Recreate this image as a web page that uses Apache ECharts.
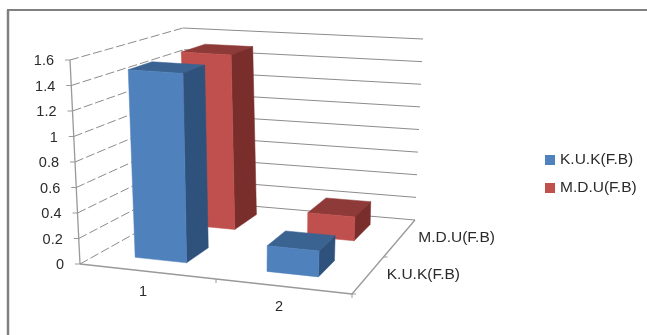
<!DOCTYPE html>
<html>
<head>
<meta charset="utf-8">
<script src="https://cdn.jsdelivr.net/npm/echarts@6/dist/echarts.min.js"></script>
<style>
html,body{margin:0;padding:0;background:#fff}
#main{width:647px;height:335px;filter:blur(0.45px)}
</style>
</head>
<body>
<div id="main"></div>
<script>
var categories = ['1', '2'];
var seriesNames = ['K.U.K(F.B)', 'M.D.U(F.B)'];
var kukValues = [1.5, 0.2];
var mduValues = [1.5, 0.2];
var yTicks = [0, 0.2, 0.4, 0.6, 0.8, 1, 1.2, 1.4, 1.6];

// where the corners of the 3d box land on the page: front/back, left/right, bottom/top
var box = {
	fbl: [80, 264], fbr: [352, 294], btl: [183, 28], btr: [423, 39],
	ftl: [70, 60], ftr: [361, 80], bbl: [193, 201], bbr: [415, 220]
};
var barShare = 0.39;   // share of the category width
var barShift = -0.015;
var depthShare = 0.45; // share of the depth band
var depthShift = 0.03;
var labelFont = '15.5px "Liberation Sans"';
var numFont = '14.5px "Liberation Sans"';

function mix(a, b, t) {
	return [a[0] + (b[0] - a[0]) * t, a[1] + (b[1] - a[1]) * t];
}
// u along the categories, v up the value axis, w into the depth, all 0..1
function project(u, v, w) {
	var bottom = mix(mix(box.fbl, box.fbr, u), mix(box.bbl, box.bbr, u), w);
	var top = mix(mix(box.ftl, box.ftr, u), mix(box.btl, box.btr, u), w);
	return mix(bottom, top, v);
}
function toBox(params, pt) {
	var c = params.coordSys;
	return [(pt[0] - c.x) / c.width, (c.y + c.height - pt[1]) / c.height];
}
function line(a, b, color, width, dash) {
	return {
		type: 'line', silent: true,
		shape: { x1: a[0], y1: a[1], x2: b[0], y2: b[1] },
		style: { stroke: color, lineWidth: width, lineDash: dash || null }
	};
}
function label(p, text, align, font) {
	return {
		type: 'text', silent: true,
		style: { x: p[0], y: p[1], text: text, align: align, verticalAlign: 'middle', font: font, fill: '#2b2b2b' }
	};
}
function face(points, color) {
	return {
		type: 'polygon', silent: true,
		shape: { points: points },
		style: { fill: color, stroke: color, lineWidth: 0.5 }
	};
}

function barRender(depthIndex, front, top, side) {
	return function (params, api) {
		var x = api.value(0);
		var low = toBox(params, api.coord([x, 0]));
		var high = toBox(params, api.coord([x, api.value(1)]));
		var half = api.size([1, 0])[0] / params.coordSys.width * barShare / 2;
		var u0 = low[0] + barShift - half, u1 = low[0] + barShift + half;
		var band = 1 / seriesNames.length;
		var mid = (depthIndex + 0.5) * band + depthShift;
		var w0 = mid - depthShare * band / 2;
		var w1 = mid + depthShare * band / 2;
		var v = high[1];
		return {
			type: 'group',
			children: [
				face([project(u0, v, w0), project(u1, v, w0), project(u1, v, w1), project(u0, v, w1)], top),
				face([project(u1, 0, w0), project(u1, 0, w1), project(u1, v, w1), project(u1, v, w0)], side),
				face([project(u0, 0, w0), project(u1, 0, w0), project(u1, v, w0), project(u0, v, w0)], front)
			]
		};
	};
}

// walls: one grid line per value tick
function wallRender(params, api) {
	var v = toBox(params, api.coord([0, api.value(0)]))[1];
	var a = project(0, v, 0), b = project(0, v, 1), c = project(1, v, 1);
	return {
		type: 'group',
		children: [
			line(a, b, '#8c8c8c', 1, [9, 3]),
			line(b, c, '#8c8c8c', 1),
			line([a[0] - 5, a[1]], a, '#999', 1),
			label([a[0] - 16, a[1] + 1], String(api.value(0)), 'right', numFont)
		]
	};
}

function categoryRender(params, api) {
	var i = api.value(0);
	var u = toBox(params, api.coord([i, 0]))[0];
	var p = project(u, 0, 0);
	var t = project((i + 1) / categories.length, 0, 0);
	return {
		type: 'group',
		children: [
			line(t, [t[0], t[1] + 4], '#999', 1),
			label([p[0] - 5, p[1] + 20], categories[i], 'center', numFont)
		]
	};
}

function depthRender(params, api) {
	var i = api.value(0);
	var p = project(1, 0, (i + 0.5) / seriesNames.length);
	var t = project(1, 0, i / seriesNames.length);
	return {
		type: 'group',
		children: [
			line(t, [t[0] + 4, t[1]], '#999', 1),
			label([p[0] + 19, p[1] - 1], seriesNames[i], 'left', labelFont)
		]
	};
}

var tickIndex = [];
for (var i = 0; i < yTicks.length; i++) { tickIndex.push([yTicks[i]]); }

var myChart = echarts.init(document.getElementById('main'));
var option = {
	animation: false,
	backgroundColor: '#fff',
	grid: { left: 100, top: 50, width: 200, height: 200, show: false },
	xAxis: { type: 'category', data: categories, show: false },
	yAxis: { type: 'value', min: 0, max: 1.6, interval: 0.2, show: false },
	legend: {
		orient: 'vertical', left: 545, top: 152, padding: 0,
		itemWidth: 10, itemHeight: 10, itemGap: 12,
		icon: 'rect',
		data: seriesNames,
		selectedMode: false,
		textStyle: { fontFamily: 'Liberation Sans', fontSize: 15.5, color: '#2b2b2b' }
	},
	graphic: [
		{ type: 'line', shape: { x1: 8, y1: 10, x2: 8, y2: 335 }, style: { stroke: '#808080', lineWidth: 2.5 } },
		{ type: 'line', shape: { x1: 7, y1: 10, x2: 647, y2: 10 }, style: { stroke: '#808080', lineWidth: 2 } },
		{ type: 'line', shape: { x1: box.ftl[0], y1: box.ftl[1], x2: box.fbl[0], y2: box.fbl[1] }, style: { stroke: '#999', lineWidth: 1.3 } },
		{ type: 'line', shape: { x1: box.fbl[0], y1: box.fbl[1], x2: box.fbr[0], y2: box.fbr[1] }, style: { stroke: '#999', lineWidth: 1.3 } },
		{ type: 'line', shape: { x1: box.fbr[0], y1: box.fbr[1], x2: box.bbr[0], y2: box.bbr[1] }, style: { stroke: '#999', lineWidth: 1.3 } }
	],
	series: [
		{
			type: 'custom', name: 'walls', z: 1, silent: true, clip: false,
			data: tickIndex, encode: { y: 0 },
			renderItem: wallRender
		},
		{
			type: 'custom', name: 'cats', z: 1, silent: true, clip: false,
			data: [[0], [1]], encode: { x: 0 },
			renderItem: categoryRender
		},
		{
			type: 'custom', name: 'depths', z: 1, silent: true, clip: false,
			data: [[0], [1]],
			renderItem: depthRender
		},
		{
			type: 'custom', name: seriesNames[1], z: 2, clip: false,
			itemStyle: { color: '#C0504D' },
			data: [[0, mduValues[0]], [1, mduValues[1]]], encode: { x: 0, y: 1 },
			renderItem: barRender(1, '#C0504D', '#8E3A38', '#7A2E2C')
		},
		{
			type: 'custom', name: seriesNames[0], z: 3, clip: false,
			itemStyle: { color: '#4F81BD' },
			data: [[0, kukValues[0]], [1, kukValues[1]]], encode: { x: 0, y: 1 },
			renderItem: barRender(0, '#4F81BD', '#3A6391', '#2F527C')
		}
	]
};
myChart.setOption(option);
</script>
</body>
</html>
